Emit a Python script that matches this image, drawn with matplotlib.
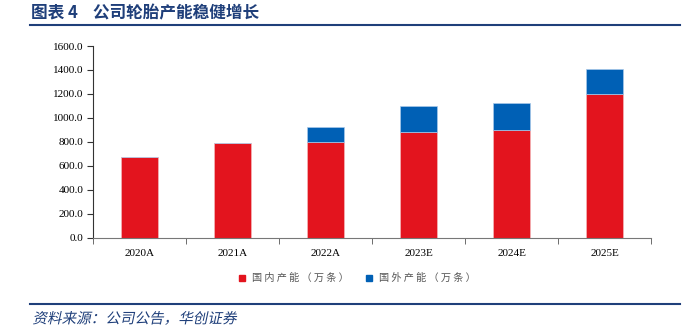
import numpy as np
import matplotlib
matplotlib.use("Agg")
import matplotlib.pyplot as plt
from matplotlib.lines import Line2D
from matplotlib.patheffects import AbstractPathEffect
from matplotlib.transforms import Affine2D

years = ["2020A", "2021A", "2022A", "2023E", "2024E", "2025E"]
domestic = [670, 790, 800, 880, 900, 1200]
overseas = [0, 0, 120, 220, 220, 210]
yticks = [0, 200, 400, 600, 800, 1000, 1200, 1400, 1600]

RED = "#E3141E"
BLUE = "#0060B5"
NAVY = "#1F3F7A"
CJK = ["Noto Sans CJK SC", "DejaVu Sans"]
SERIF = "Liberation Serif"


class Slant(AbstractPathEffect):
    """Fake italic for CJK glyphs (no italic face installed) -- shear about the baseline."""

    def __init__(self, deg=12, y0=0.0):
        super().__init__()
        self.deg, self.y0 = deg, y0

    def draw_path(self, renderer, gc, tpath, affine, rgbFace=None):
        shear = Affine2D().translate(0, -self.y0).skew_deg(self.deg, 0).translate(0, self.y0)
        renderer.draw_path(gc, tpath, affine + shear, rgbFace)


fig = plt.figure(figsize=(6.89, 3.36), dpi=100)
ax = fig.add_axes([93 / 689, 1 - 237.5 / 336, (651 - 93) / 689, (237.5 - 46) / 336])

x = np.arange(len(years))
ax.bar(x, domestic, width=0.4, color=RED, edgecolor="#f4b6b8", linewidth=0.5)
ax.bar(x, overseas, width=0.4, bottom=domestic, color=BLUE, edgecolor="#a8c8ea", linewidth=0.5)

ax.set_xlim(-0.5, len(years) - 0.5)
ax.set_ylim(0, 1600)
ax.set_yticks(yticks)
ax.set_yticklabels([f"{v:.1f}" for v in yticks], fontfamily=SERIF, fontsize=8)
ax.set_xticks(x)
ax.set_xticklabels(years, fontfamily=SERIF, fontsize=8)
ax.tick_params(axis="x", length=0, pad=8)
ax.set_xticks(np.arange(-0.5, len(years)), minor=True)
ax.tick_params(axis="x", which="minor", length=4, color="#555555")
ax.tick_params(axis="y", length=4, color="#333333", pad=3)
for s in ["top", "right"]:
    ax.spines[s].set_visible(False)
ax.spines["left"].set_color("#333333")
ax.spines["bottom"].set_color("#777777")

# legend
handles = [Line2D([], [], marker="s", linestyle="none", color=RED, markersize=5),
           Line2D([], [], marker="s", linestyle="none", color=BLUE, markersize=5)]
fig.legend(handles, ["国 内 产 能 （ 万 条 ）", "国 外 产 能 （ 万 条 ）"], loc="center",
           bbox_to_anchor=(354 / 689, 1 - 278 / 336), ncol=2, frameon=False,
           prop={"family": CJK, "size": 7.3}, handletextpad=0.0, columnspacing=1.0,
           labelcolor="#555555")

# title and footer
fig.text(31 / 689, 1 - 13 / 336, "图表 4    公司轮胎产能稳健增长", fontfamily=CJK,
         fontsize=12, fontweight="semibold", color=NAVY, va="center")
fig.add_artist(Line2D([30 / 689, 680 / 689], [1 - 25 / 336] * 2, color=NAVY, linewidth=1.5))
fig.add_artist(Line2D([30 / 689, 680 / 689], [1 - 304 / 336] * 2, color=NAVY, linewidth=1.5))
fig.text(32 / 689, 1 - 319 / 336, "资料来源：公司公告，华创证券", fontfamily=CJK,
         fontsize=10.5, fontweight="light", color=NAVY, va="center",
         path_effects=[Slant(12, y0=336 - 325)])

fig.savefig("out.png", dpi=100, facecolor="white")
